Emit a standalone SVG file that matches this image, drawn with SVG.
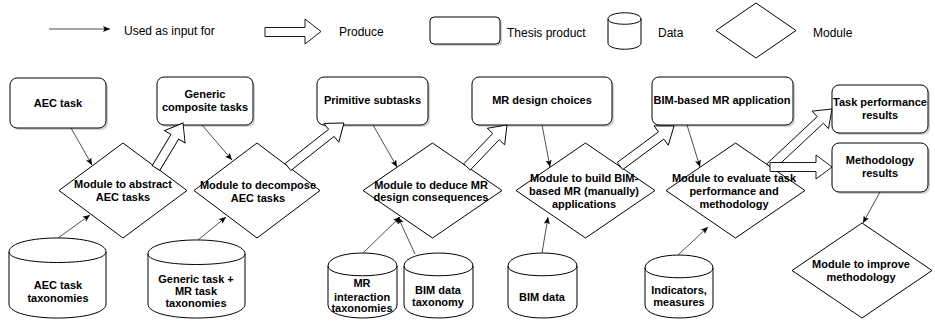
<svg xmlns="http://www.w3.org/2000/svg" width="935" height="322" viewBox="0 0 935 322">
<style>
.box{fill:#fff;stroke:#000;stroke-width:1}
.shadow{fill:#000;opacity:0.18}
.dia{fill:#fff;stroke:#000;stroke-width:1}
.cyl{fill:#fff;stroke:#000;stroke-width:1}
.t{font-family:"Liberation Sans",Arial,sans-serif;font-size:11px;font-weight:bold;fill:#000;text-anchor:middle}
.lg{font-family:"Liberation Sans",Arial,sans-serif;font-size:12px;fill:#000}
.ln{fill:none;stroke:#222;stroke-width:0.8;marker-end:url(#ah)}
.blk{fill:#fff;stroke:#000;stroke-width:0.9}
</style>
<defs>
<marker id="ah" markerUnits="userSpaceOnUse" markerWidth="9" markerHeight="7" refX="7" refY="3" orient="auto">
<path d="M0,0 L7,3 L0,6 L1.5,3 z" fill="#000"/>
</marker>
<polygon id="ba" points="0,-4.5 -16,-4.5 -16,-12 0,0 -16,12 -16,4.5 0,4.5"/>
</defs>

<g id="legend">
<line class="ln" x1="49" y1="29" x2="110" y2="29"/>
<text class="lg" x="124" y="35">Used as input for</text>
<polygon class="blk" points="265,27.5 305,27.5 305,19 321,31.5 305,44 305,36.5 265,36.5"/>
<text class="lg" x="339" y="36">Produce</text>
<rect class="shadow" x="432" y="19" width="70" height="27" rx="4"/>
<rect class="box" x="430" y="17" width="70" height="27" rx="4"/>
<text class="lg" x="507" y="37">Thesis product</text>
<path class="cyl" d="M608,19 C608,10.7 641,10.7 641,19 L641,43 C641,51.3 608,51.3 608,43 Z M608,19 C608,26 641,26 641,19"/>
<text class="lg" x="658" y="37">Data</text>
<polygon class="dia" points="716,30.5 756,3 796,30.5 756,58"/>
<text class="lg" x="813" y="37">Module</text>
</g>

<g id="n-aec-task">
<rect class="shadow" x="12" y="80" width="96" height="50" rx="7"/>
<rect class="box" x="10" y="78" width="96" height="50" rx="7"/>
<text class="t" x="58" y="107">AEC task</text>
</g>
<g id="n-generic-composite">
<rect class="shadow" x="159" y="79" width="96" height="48" rx="7"/>
<rect class="box" x="157" y="77" width="96" height="48" rx="7"/>
<text class="t" x="205" y="98">Generic</text>
<text class="t" x="205" y="111">composite tasks</text>
</g>
<g id="n-primitive">
<rect class="shadow" x="319" y="79" width="111" height="48" rx="7"/>
<rect class="box" x="317" y="77" width="111" height="48" rx="7"/>
<text class="t" x="372.5" y="104">Primitive subtasks</text>
</g>
<g id="n-mr-design">
<rect class="shadow" x="474" y="79" width="140" height="48" rx="7"/>
<rect class="box" x="472" y="77" width="140" height="48" rx="7"/>
<text class="t" x="542" y="104">MR design choices</text>
</g>
<g id="n-bim-app">
<rect class="shadow" x="654" y="79" width="141" height="48" rx="7"/>
<rect class="box" x="652" y="77" width="141" height="48" rx="7"/>
<text class="t" x="722" y="104">BIM-based MR application</text>
</g>
<g id="n-task-perf">
<rect class="shadow" x="834" y="87" width="96" height="48" rx="7"/>
<rect class="box" x="832" y="85" width="96" height="48" rx="7"/>
<text class="t" x="880" y="106">Task performance</text>
<text class="t" x="880" y="119">results</text>
</g>
<g id="n-method-results">
<rect class="shadow" x="834" y="145" width="96" height="49" rx="7"/>
<rect class="box" x="832" y="143" width="96" height="49" rx="7"/>
<text class="t" x="880" y="164">Methodology</text>
<text class="t" x="880" y="177">results</text>
</g>

<g id="m-abstract">
<polygon class="dia" points="59,190.5 123,143 187,190.5 123,238"/>
<text class="t" x="123" y="188">Module to abstract</text>
<text class="t" x="123" y="201">AEC tasks</text>
</g>
<g id="m-decompose">
<polygon class="dia" points="194,190.5 257,143 320,190.5 257,238"/>
<text class="t" x="258" y="189">Module to decompose</text>
<text class="t" x="258" y="202">AEC tasks</text>
</g>
<g id="m-deduce">
<polygon class="dia" points="363,190.5 432.5,143 502,190.5 432.5,238"/>
<text class="t" x="431" y="189">Module to deduce MR</text>
<text class="t" x="431" y="201">design consequences</text>
</g>
<g id="m-build">
<polygon class="dia" points="516,190.5 585.5,143 655,190.5 585.5,238"/>
<text class="t" x="584" y="182">Module to build BIM-</text>
<text class="t" x="584" y="195">based MR (manually)</text>
<text class="t" x="584" y="208">applications</text>
</g>
<g id="m-evaluate">
<polygon class="dia" points="666,190.5 735.5,143 805,190.5 735.5,238"/>
<text class="t" x="734" y="182">Module to evaluate task</text>
<text class="t" x="734" y="195">performance and</text>
<text class="t" x="734" y="208">methodology</text>
</g>
<g id="m-improve">
<polygon class="dia" points="792,270.5 862,223 932,270.5 862,318"/>
<text class="t" x="861" y="268">Module to improve</text>
<text class="t" x="861" y="281">methodology</text>
</g>

<g id="d-aec-tax">
<path class="cyl" d="M9,252 C9,233.3 106,233.3 106,252 L106,304 C106,322.7 9,322.7 9,304 Z M9,252 C9,266 106,266 106,252"/>
<text class="t" x="58" y="289">AEC task</text>
<text class="t" x="58" y="302">taxonomies</text>
</g>
<g id="d-generic-tax">
<path class="cyl" d="M148,254 C148,235.3 245,235.3 245,254 L245,304 C245,322.7 148,322.7 148,304 Z M148,254 C148,268 245,268 245,254"/>
<text class="t" x="196" y="283">Generic task +</text>
<text class="t" x="196" y="295">MR task</text>
<text class="t" x="196" y="307">taxonomies</text>
</g>
<g id="d-mr-inter">
<path class="cyl" d="M328,266 C328,248.7 397,248.7 397,266 L397,305 C397,322.3 328,322.3 328,305 Z M328,266 C328,279 397,279 397,266"/>
<text class="t" x="362" y="287">MR</text>
<text class="t" x="362" y="301">interaction</text>
<text class="t" x="362" y="312">taxonomies</text>
</g>
<g id="d-bim-tax">
<path class="cyl" d="M404,266 C404,248.7 473,248.7 473,266 L473,305 C473,322.3 404,322.3 404,305 Z M404,266 C404,279 473,279 473,266"/>
<text class="t" x="438" y="294">BIM data</text>
<text class="t" x="438" y="306">taxonomy</text>
</g>
<g id="d-bim-data">
<path class="cyl" d="M508,266 C508,248.7 577,248.7 577,266 L577,305 C577,322.3 508,322.3 508,305 Z M508,266 C508,279 577,279 577,266"/>
<text class="t" x="542" y="301">BIM data</text>
</g>
<g id="d-indicators">
<path class="cyl" d="M645,268 C645,250.7 713,250.7 713,268 L713,305 C713,322.3 645,322.3 645,305 Z M645,268 C645,281 713,281 713,268"/>
<text class="t" x="679" y="294">Indicators,</text>
<text class="t" x="679" y="306">measures</text>
</g>

<g id="connectors">
<line class="ln" x1="71" y1="128" x2="92" y2="165"/>
<line class="ln" x1="58" y1="238" x2="90" y2="215"/>
<line class="ln" x1="202" y1="125" x2="232" y2="160"/>
<line class="ln" x1="198" y1="240" x2="226" y2="217"/>
<line class="ln" x1="373" y1="125" x2="397" y2="167"/>
<line class="ln" x1="363" y1="253" x2="400" y2="217"/>
<line class="ln" x1="415" y1="254" x2="398" y2="217"/>
<line class="ln" x1="542" y1="125" x2="550" y2="167"/>
<line class="ln" x1="542" y1="253" x2="548" y2="217"/>
<line class="ln" x1="687" y1="125" x2="700" y2="167"/>
<line class="ln" x1="678" y1="255" x2="708" y2="227"/>
<line class="ln" x1="880" y1="192" x2="863" y2="223"/>
<g transform="translate(156,168) rotate(-59)"><polygon class="blk" points="0,-4.5 36.5,-4.5 36.5,-12 52.5,0 36.5,12 36.5,4.5 0,4.5"/></g>
<g transform="translate(288,167) rotate(-38.2)"><polygon class="blk" points="0,-4.5 55.2,-4.5 55.2,-12 71.2,0 55.2,12 55.2,4.5 0,4.5"/></g>
<g transform="translate(467,167) rotate(-46.4)"><polygon class="blk" points="0,-4.5 42,-4.5 42,-12 58,0 42,12 42,4.5 0,4.5"/></g>
<g transform="translate(620,166) rotate(-36.5)"><polygon class="blk" points="0,-4.5 51.2,-4.5 51.2,-12 67.2,0 51.2,12 51.2,4.5 0,4.5"/></g>
<g transform="translate(770,167) rotate(-43.1)"><polygon class="blk" points="0,-4.5 68.9,-4.5 68.9,-12 84.9,0 68.9,12 68.9,4.5 0,4.5"/></g>
<polygon class="blk" points="770,162.5 816,162.5 816,155 832,167 816,179 816,171.5 770,171.5"/>
</g>
</svg>
